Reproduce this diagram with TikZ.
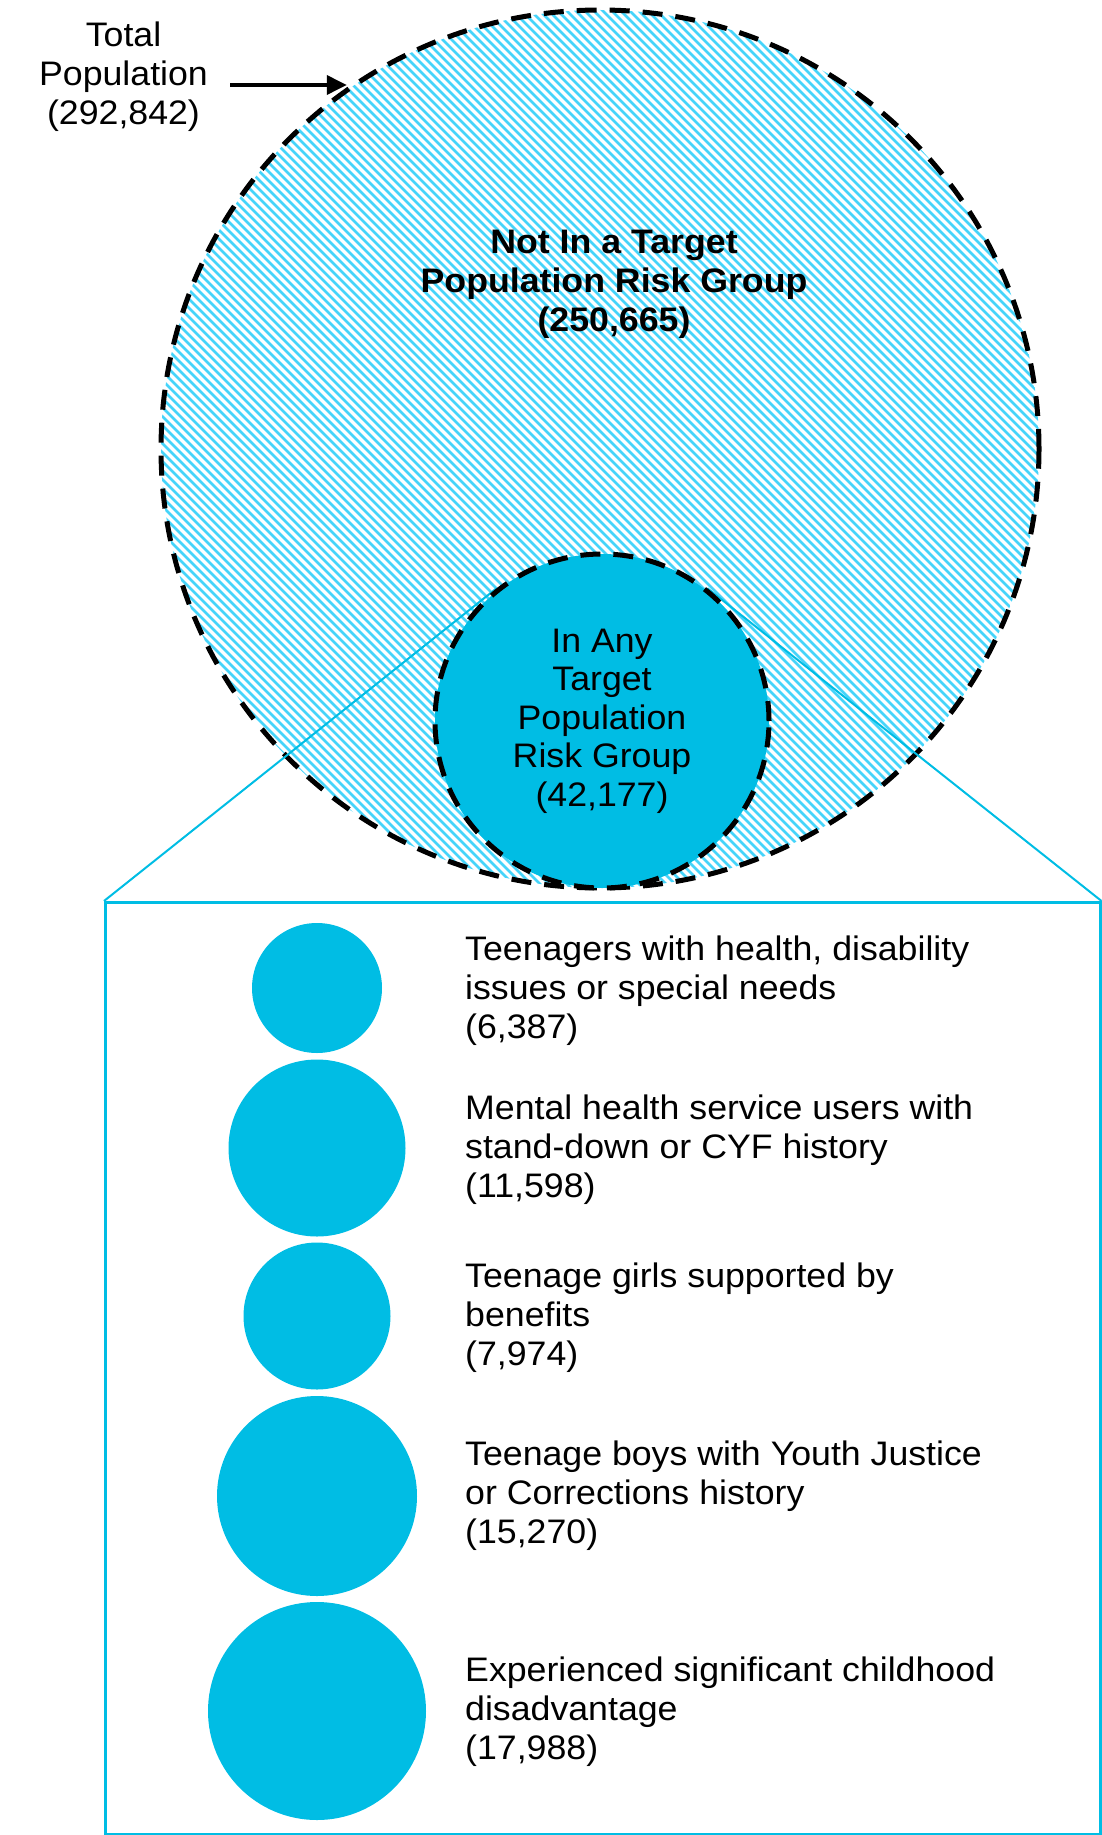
\documentclass[tikz,border=0pt]{standalone}
\usepackage{fontspec}
\setmainfont{Liberation Sans}[FakeStretch=1.05]
\usetikzlibrary{arrows.meta,calc,backgrounds}
\definecolor{cy}{RGB}{0,189,228}
\definecolor{hatchc}{RGB}{70,212,250}
\begin{document}
\begin{tikzpicture}[x=1pt,y=-1pt,
  txt/.style={font=\fontsize{34}{39}\selectfont, inner sep=0pt},
  boldtxt/.style={font=\fontsize{34}{39}\selectfont\bfseries, inner sep=0pt},
  dashedborder/.style={draw=black, line width=5pt, dash pattern=on 20pt off 13pt},
  hatchline/.style={draw=hatchc, line width=2.6pt, solid},
  bigcirc/.style={circle, inner sep=0pt, dashedborder, minimum size=878pt,
    path picture={\foreach \i in {-657,-648,...,657} {\draw[hatchline] ({\i-460},-460) -- ({\i+460},460);}}},
  smallcirc/.style={circle, inner sep=0pt, fill=cy, dashedborder, minimum size=334pt, align=center,
    font=\fontsize{34}{38.5}\selectfont},
  dot/.style={circle, inner sep=0pt, fill=cy, draw=none},
  zoombox/.style={draw=cy, line width=2.5pt, inner sep=0pt},
  connector/.style={draw=cy, line width=2pt},
  pointer/.style={draw=black, line width=3.6pt, -{Triangle[length=20pt,width=19pt]}},
  item/.style={txt, anchor=west, align=left}
]
\useasboundingbox (0,0) rectangle (1102,1835);

% zoom box
\node[zoombox, minimum width=995pt, minimum height=932pt, anchor=north west] (box) at (104,901) {};

% small circle
\node[smallcirc] (inany) at (602,721) {In Any\\Target\\Population\\Risk Group\\(42,177)};

\begin{scope}[on background layer]
  % big circle with hatch
  \node[bigcirc] (big) at (600,449) {};
  % connectors from box corners to the small circle
  \draw[connector] (box.north west) -- (tangent cs:node=inany,point={(box.north west)},solution=2);
  \draw[connector] (box.north east) -- (tangent cs:node=inany,point={(box.north east)},solution=1);
\end{scope}

% labels
\node[boldtxt, align=center] (notin) at (614,284) {Not In a Target\\Population Risk Group\\(250,665)};
\node[txt, align=center] (total) at (123.5,77) {Total\\Population\\(292,842)};
\coordinate (arrS) at (230,85);
\draw[pointer] (arrS) -- (arrS -| big.125.5);

% list circles
\node[dot, minimum size=130pt] (c1) at (317,988) {};
\node[dot, minimum size=177pt] (c2) at (317,1148) {};
\node[dot, minimum size=147pt] (c3) at (317,1316) {};
\node[dot, minimum size=200pt] (c4) at (317,1496) {};
\node[dot, minimum size=218pt] (c5) at (317,1711) {};

% list texts
\node[item] (t1) at (465,991) {Teenagers with health, disability\\issues or special needs\\(6,387)};
\node[item] (t2) at (465,1150) {Mental health service users with\\stand-down or CYF history\\(11,598)};
\node[item] (t3) at (465,1318) {Teenage girls supported by\\benefits\\(7,974)};
\node[item] (t4) at (465,1496) {Teenage boys with Youth Justice\\or Corrections history\\(15,270)};
\node[item] (t5) at (465,1712) {Experienced significant childhood\\disadvantage\\(17,988)};
\end{tikzpicture}
\end{document}
